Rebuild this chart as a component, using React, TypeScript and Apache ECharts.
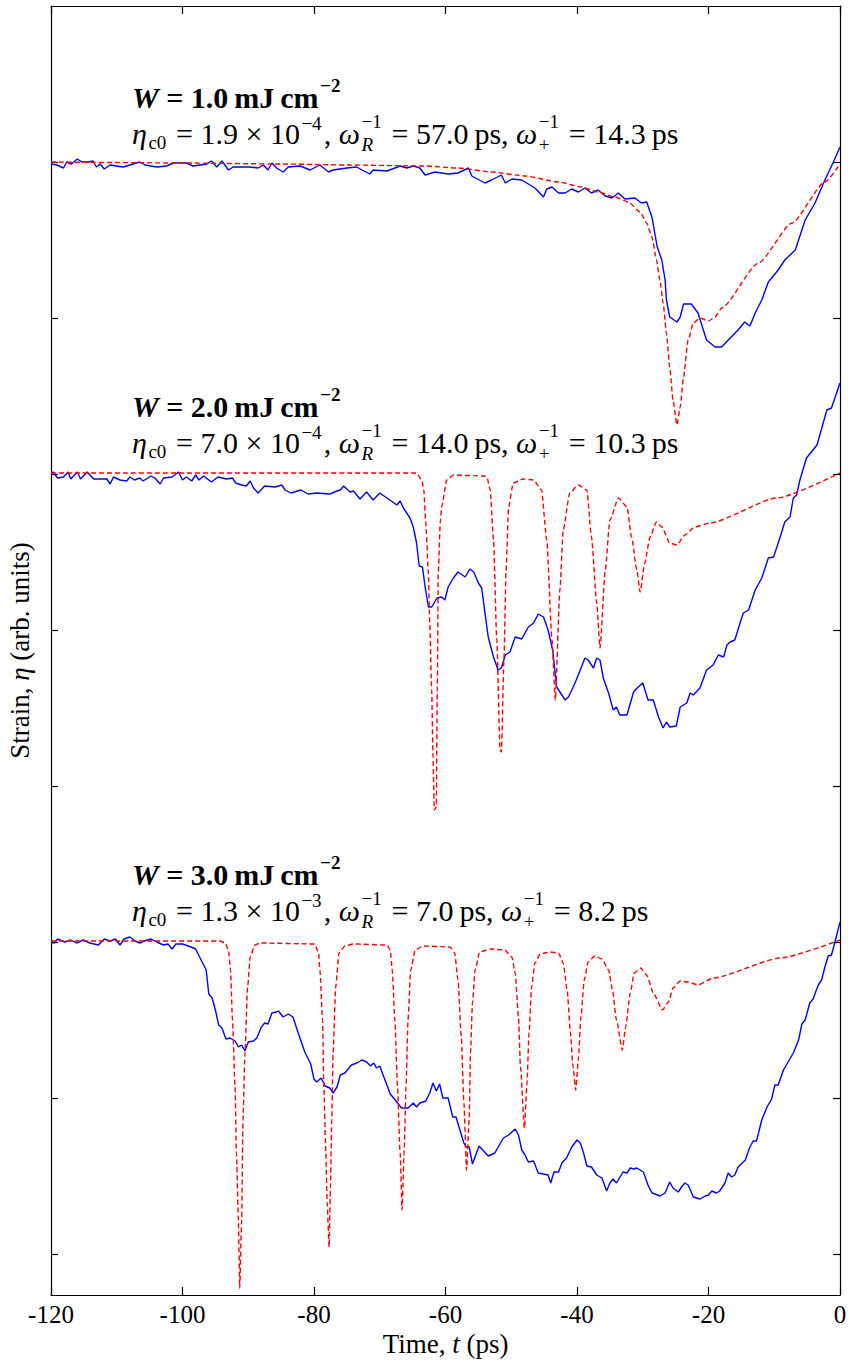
import React, { useEffect, useRef } from "react";
import * as echarts from "echarts";

// ---------- data (time in ps, strain in arbitrary units relative to each trace's baseline) ----------
const X_TICKS_STEP = 20;
const X_MIN = -120;
const X_MAX = 0;
const Y_MIN = -1289;
const Y_MAX = 0;
const Y_TICKS = [-156, -312, -468, -624, -780, -936, -1092, -1248];
const OFFSETS = [-156, -467, -935];

const FLUENCE = ["1.0", "2.0", "3.0"];
const ETA_MANT = ["1.9", "7.0", "1.3"];
const ETA_EXP = ["−4", "−4", "−3"];
const OMEGA_R = ["57.0", "14.0", "7.0"];
const OMEGA_P = ["14.3", "10.3", "8.2"];

const BLUE1: number[][] = [
  [-120.0, -2], [-119.1, -3], [-118.1, -6], [-117.6, 0], [-116.9, -2], [-116.0, 3], [-115.3, 0], [-114.3, 0],
  [-113.6, 1], [-113.1, -5], [-112.5, -2], [-111.9, -7], [-111.0, -3], [-110.0, -4], [-109.0, -5], [-107.5, -2],
  [-106.5, 0], [-105.7, -3], [-103.9, -5], [-102.4, -4], [-101.4, -1], [-99.4, -1], [-98.4, -4], [-96.3, -2],
  [-95.6, 1], [-94.8, -5], [-94.0, 1], [-93.0, -8], [-92.3, -5], [-89.7, -5], [-88.5, -6], [-87.7, -3],
  [-87.0, -8], [-86.4, -1], [-85.7, -6], [-84.7, -10], [-83.9, -5], [-82.1, -4], [-80.6, -8], [-79.1, -3],
  [-77.8, -10], [-77.1, -8], [-75.0, -6], [-73.5, -5], [-72.7, -8], [-71.5, -12], [-71.0, -8], [-68.9, -9],
  [-66.9, -4], [-65.9, -6], [-64.9, -4], [-63.9, -6], [-63.1, -13], [-61.6, -10], [-59.6, -12], [-58.1, -11],
  [-56.5, -6], [-56.0, -14], [-54.0, -21], [-53.0, -18], [-51.5, -13], [-50.9, -21], [-49.9, -17], [-48.4, -18],
  [-47.4, -22], [-46.4, -26], [-45.1, -35], [-44.6, -27], [-43.8, -25], [-42.8, -31], [-41.8, -31], [-40.8, -27],
  [-39.8, -30], [-38.8, -26], [-37.8, -31], [-36.8, -28], [-35.7, -34], [-34.7, -36], [-33.7, -31], [-32.7, -37],
  [-31.2, -36], [-30.2, -41], [-29.4, -40], [-28.6, -55], [-27.8, -85], [-27.1, -98], [-26.6, -118], [-26.4, -138],
  [-25.9, -155], [-24.8, -160], [-24.3, -155], [-23.8, -142], [-22.6, -142], [-21.6, -151], [-20.3, -178], [-19.0, -185],
  [-18.0, -185], [-17.0, -178], [-15.5, -168], [-14.5, -160], [-13.7, -164], [-12.9, -151], [-11.9, -138], [-10.9, -120],
  [-9.4, -108], [-8.4, -98], [-6.8, -88], [-5.3, -58], [-3.8, -41], [-2.3, -18], [-1.0, 0], [0, 15],
];

const RED1: number[][] = [
  [-120, 0], [-100, -1], [-85, -2], [-75, -3], [-63.1, -4], [-58.1, -6], [-53.0, -10], [-47.9, -14],
  [-42.8, -20], [-39.3, -25], [-36.8, -30], [-34.2, -35], [-32.2, -40], [-30.4, -50], [-29.4, -61], [-28.6, -75],
  [-27.9, -98], [-27.4, -118], [-26.9, -141], [-26.4, -171], [-25.9, -205], [-25.4, -238], [-24.8, -263], [-24.3, -245],
  [-23.8, -215], [-23.1, -178], [-22.3, -161], [-21.3, -156], [-20.0, -159], [-19.0, -155], [-18.0, -146],
  [-12.4, -101], [-7.3, -61], [-2.3, -20], [0, -2],
];

const BLUE2: number[][] = [
  [-119.9, 0], [-119.7, 1], [-119.0, -5], [-118.1, -4], [-117.4, 1], [-117.0, -6], [-116.0, 1], [-115.5, -6],
  [-114.5, 1], [-113.5, -6], [-111.5, -6], [-111.0, -11], [-110.5, -4], [-109.5, -7], [-108.5, -8], [-108.0, -4],
  [-107.3, -7], [-106.5, -5], [-106.0, -8], [-104.8, -3], [-104.2, -5], [-103.4, -11], [-102.9, -5], [-101.6, -4],
  [-100.6, 1], [-100.0, -7], [-99.4, -4], [-98.6, -8], [-98.0, -2], [-97.5, -7], [-96.8, -3], [-95.6, -9],
  [-94.6, -4], [-93.3, -6], [-92.4, -5], [-91.9, -10], [-91.0, -12], [-90.3, -13], [-89.7, -8], [-89.2, -15],
  [-88.5, -20], [-87.5, -13], [-85.9, -14], [-84.9, -12], [-84.4, -17], [-83.5, -20], [-82.0, -17], [-80.9, -21],
  [-79.6, -20], [-77.6, -21], [-76.5, -18], [-76.0, -17], [-75.5, -13], [-74.5, -19], [-74.0, -18], [-73.0, -26],
  [-72.0, -19], [-71.0, -27], [-70.0, -20], [-68.9, -25], [-67.4, -32], [-66.9, -28], [-66.4, -35], [-65.4, -45],
  [-64.9, -54], [-64.4, -70], [-64.0, -93], [-63.5, -94], [-63.1, -114], [-62.6, -134], [-62.1, -134], [-61.3, -125],
  [-60.6, -124], [-60.1, -127], [-59.6, -114], [-58.8, -105], [-58.1, -99], [-57.0, -104], [-56.3, -96], [-55.7, -99],
  [-55.0, -110], [-54.5, -115], [-54.0, -140], [-53.5, -164], [-52.7, -184], [-52.0, -197], [-51.5, -195], [-50.9, -182],
  [-50.2, -179], [-49.4, -164], [-48.4, -166], [-47.4, -154], [-46.6, -150], [-45.9, -141], [-45.1, -144], [-44.4, -157],
  [-43.7, -177], [-43.1, -214], [-41.8, -227], [-41.3, -224], [-40.3, -210], [-39.5, -197], [-38.8, -185], [-38.3, -187],
  [-37.5, -195], [-37.0, -185], [-36.5, -187], [-36.0, -205], [-35.2, -220], [-34.5, -237], [-34.0, -234], [-33.5, -242],
  [-32.4, -242], [-31.4, -219], [-30.7, -214], [-30.0, -210], [-29.2, -227], [-28.4, -227], [-27.6, -244], [-26.9, -255],
  [-26.4, -249], [-25.9, -254], [-24.9, -253], [-24.3, -234], [-23.3, -230], [-22.8, -220], [-22.3, -222], [-21.3, -215],
  [-20.3, -197], [-19.3, -192], [-18.5, -182], [-17.7, -184], [-17.2, -172], [-16.7, -169], [-16.0, -167], [-15.2, -150],
  [-14.7, -140], [-13.9, -137], [-12.9, -117], [-11.9, -105], [-10.9, -85], [-10.1, -84], [-9.1, -64], [-8.4, -49],
  [-7.6, -44], [-7.1, -25], [-6.6, -22], [-6.1, -7], [-5.1, 15], [-3.5, 28], [-2.0, 63], [-1.3, 65], [0, 90],
];

const RED2: number[][] = [
  [-120, 0], [-64.4, 0], [-63.6, -7], [-63.3, -17], [-63.0, -50], [-62.6, -100], [-62.4, -150], [-62.1, -217],
  [-61.9, -284], [-61.7, -337], [-61.4, -334], [-61.25, -217], [-61.1, -100], [-60.8, -50], [-60.6, -34], [-59.8, -7],
  [-58.8, -2], [-54.0, -3], [-53.7, -4], [-53.2, -17], [-52.7, -67], [-52.2, -167], [-51.7, -277], [-51.5, -279],
  [-51.1, -184], [-50.8, -100], [-50.4, -34], [-49.7, -10], [-48.2, -6], [-46.6, -7], [-45.4, -17], [-44.6, -67],
  [-43.8, -167], [-43.3, -227], [-42.6, -117], [-42.1, -57], [-41.1, -20], [-39.8, -12], [-38.5, -17], [-37.8, -64],
  [-37.0, -130], [-36.5, -175], [-35.7, -97], [-35.0, -47], [-33.7, -25], [-32.4, -34], [-31.7, -64], [-30.9, -97],
  [-30.4, -119], [-29.7, -90], [-28.9, -64], [-27.9, -49], [-27.1, -54], [-25.9, -70], [-24.8, -72], [-23.6, -62],
  [-22.1, -54], [-19.8, -50], [-9.6, -25], [0, 0],
];

const BLUE3: number[][] = [
  [-119.9, -1], [-119.5, -2], [-119.0, 2], [-117.9, -1], [-117.0, 1], [-116.1, -2], [-115.1, 1], [-114.1, -2],
  [-112.8, -4], [-111.9, 2], [-111.0, 0], [-110.2, 2], [-109.5, -4], [-108.9, 2], [-108.0, 4], [-107.2, 0],
  [-106.5, -2], [-105.8, 0], [-104.8, 2], [-103.9, -1], [-102.9, -4], [-102.2, -3], [-101.6, -8], [-101.0, -3],
  [-100.0, -3], [-99.1, -5], [-98.0, -8], [-97.4, -16], [-96.4, -29], [-96.0, -53], [-95.5, -57], [-95.0, -69],
  [-94.5, -84], [-94.0, -87], [-93.4, -98], [-92.8, -97], [-92.0, -100], [-91.5, -106], [-91.0, -104], [-90.5, -110],
  [-90.0, -101], [-89.2, -100], [-88.7, -97], [-88.0, -86], [-87.5, -82], [-87.0, -83], [-86.4, -72], [-85.7, -71],
  [-85.4, -70], [-84.7, -76], [-83.9, -73], [-83.2, -76], [-82.4, -92], [-81.4, -111], [-80.5, -123], [-80.0, -138],
  [-79.6, -141], [-78.9, -137], [-78.3, -145], [-77.6, -147], [-77.1, -152], [-76.5, -146], [-76.0, -134], [-75.3, -132],
  [-74.3, -124], [-73.5, -122], [-72.7, -119], [-72.0, -121], [-71.4, -125], [-70.9, -122], [-70.5, -127], [-70.0, -125],
  [-69.2, -139], [-68.4, -153], [-67.4, -161], [-66.7, -167], [-65.7, -167], [-64.9, -162], [-64.4, -166], [-63.9, -162],
  [-63.0, -160], [-62.4, -152], [-61.9, -142], [-61.4, -150], [-60.9, -143], [-60.4, -157], [-59.6, -157], [-58.9, -176],
  [-58.4, -176], [-57.9, -187], [-57.2, -202], [-56.9, -206], [-56.4, -206], [-55.9, -223], [-54.9, -205], [-53.5, -215],
  [-52.5, -212], [-51.2, -197], [-50.4, -194], [-49.4, -188], [-48.9, -194], [-48.4, -209], [-47.9, -214], [-47.4, -221],
  [-46.6, -220], [-45.9, -232], [-45.1, -233], [-44.4, -234], [-44.0, -242], [-43.5, -231], [-42.8, -231], [-42.3, -222],
  [-41.6, -217], [-40.8, -206], [-40.0, -199], [-39.5, -202], [-39.0, -212], [-38.5, -225], [-37.8, -226], [-37.0, -234],
  [-36.2, -237], [-35.5, -250], [-35.0, -242], [-34.5, -238], [-34.0, -242], [-33.0, -231], [-32.4, -232], [-31.9, -227],
  [-31.4, -228], [-30.9, -227], [-29.9, -231], [-29.2, -244], [-28.6, -252], [-28.1, -253], [-27.4, -255], [-26.6, -252],
  [-25.9, -241], [-25.4, -247], [-24.6, -251], [-24.1, -246], [-23.6, -242], [-23.1, -244], [-22.3, -256], [-21.3, -258],
  [-20.5, -255], [-20.0, -254], [-19.5, -250], [-18.8, -252], [-18.3, -250], [-17.5, -242], [-17.0, -232], [-16.5, -236],
  [-16.0, -234], [-15.5, -226], [-14.4, -219], [-13.7, -206], [-13.2, -200], [-12.7, -200], [-11.9, -179], [-11.1, -166],
  [-10.4, -158], [-9.9, -144], [-9.4, -144], [-8.6, -129], [-7.9, -121], [-7.1, -112], [-6.3, -99], [-5.8, -83],
  [-5.3, -79], [-4.6, -62], [-4.1, -58], [-3.3, -44], [-2.8, -39], [-2.3, -26], [-1.8, -15], [-1.3, -14],
  [-0.8, -2], [0, 19],
];

const RED3: number[][] = [
  [-120, 0], [-94.3, 0], [-93.5, -2], [-93.0, -9], [-92.7, -29], [-92.4, -79], [-92.0, -146], [-91.8, -212],
  [-91.5, -279], [-91.3, -347], [-91.0, -279], [-90.8, -179], [-90.5, -112], [-90.1, -46], [-89.7, -16], [-89.0, -4],
  [-88.2, -2], [-79.9, -3], [-79.3, -12], [-79.1, -29], [-78.7, -79], [-78.5, -146], [-78.2, -212], [-78.0, -262],
  [-77.7, -306], [-77.5, -246], [-77.3, -179], [-77.1, -112], [-76.7, -46], [-76.2, -12], [-75.3, -5], [-74.0, -3],
  [-68.9, -4], [-68.4, -9], [-68.1, -29], [-67.7, -79], [-67.3, -146], [-66.9, -212], [-66.6, -269], [-66.3, -212],
  [-66.0, -146], [-65.7, -79], [-65.3, -29], [-64.6, -9], [-63.4, -5], [-59.3, -6], [-58.6, -12], [-58.1, -39],
  [-57.6, -96], [-57.2, -162], [-56.8, -229], [-56.4, -179], [-56.2, -112], [-55.9, -62], [-55.5, -29], [-54.8, -11],
  [-53.2, -8], [-51.0, -9], [-49.9, -16], [-49.4, -32], [-48.9, -76], [-48.6, -126], [-48.0, -187], [-47.6, -142],
  [-47.3, -92], [-46.9, -46], [-46.4, -22], [-45.6, -13], [-44.1, -11], [-42.8, -12], [-42.1, -22], [-41.5, -49],
  [-41.0, -92], [-40.6, -126], [-40.2, -149], [-39.8, -119], [-39.4, -76], [-38.9, -39], [-38.3, -21], [-37.3, -15],
  [-36.2, -18], [-35.2, -29], [-34.6, -49], [-34.0, -79], [-33.1, -109], [-32.6, -86], [-31.9, -52], [-31.3, -32],
  [-30.3, -27], [-29.4, -34], [-28.4, -52], [-27.0, -69], [-26.1, -61], [-25.4, -47], [-24.3, -40], [-23.1, -41],
  [-21.6, -44], [-19.3, -37], [-9.1, -17], [0, 1],
];

// ---------- layout / style ----------
const W = 850;
const H = 1361;
const FONT = "Liberation Serif, serif";
const TICK_FONT = 25;
const NAME_FONT = 27;
const ANN_FONT = 30;
const ANN_X = 132;
const ANN_Y = [97, 406, 874];
const ANN_GAP = 36;
const BLUE = "#0000ff";
const RED = "#ff0000";

type Seg = { s: string; it?: boolean; b?: boolean; pos?: "sup" | "sub"; stack?: boolean; shiftK?: number };

function layoutLine(segs: Seg[], x0: number, yc: number, size: number): any[] {
  const canvas = document.createElement("canvas");
  const ctx = canvas.getContext("2d")!;
  const els: any[] = [];
  let x = x0;
  let prevStart = x0;
  for (const seg of segs) {
    const fs = seg.pos ? Math.round(size * 0.62) : size;
    ctx.font = `${seg.it ? "italic " : ""}${seg.b ? "bold " : ""}${fs}px ${FONT}`;
    const w = ctx.measureText(seg.s).width;
    const pad = seg.pos ? 1.5 : 0;
    const start = seg.stack ? prevStart : x + pad;
    const k = seg.shiftK ?? (seg.pos === "sup" ? 0.33 : 0.3);
    const dy = seg.pos === "sup" ? -size * k : seg.pos === "sub" ? size * k : 0;
    els.push({
      type: "text",
      x: start,
      y: yc + dy,
      silent: true,
      style: {
        text: seg.s,
        fontSize: fs,
        fontFamily: FONT,
        fontStyle: seg.it ? "italic" : "normal",
        fontWeight: seg.b ? "bold" : "normal",
        fill: "#000",
        align: "left",
        verticalAlign: "middle",
      },
    });
    const end = start + w + pad * 1.5;
    x = seg.stack ? Math.max(x, end) : end;
    prevStart = start;
  }
  return els;
}

function annotations(): any[] {
  const out: any[] = [];
  for (let i = 0; i < 3; i++) {
    const y1 = ANN_Y[i];
    out.push(
      ...layoutLine(
        [
          { s: "W", it: true, b: true },
          { s: ` = ${FLUENCE[i]}\u2009mJ\u2009cm`, b: true },
          { s: "−2", b: true, pos: "sup", shiftK: 0.4 },
        ],
        ANN_X,
        y1,
        ANN_FONT
      )
    );
    out.push(
      ...layoutLine(
        [
          { s: "η", it: true },
          { s: "c0", pos: "sub" },
          { s: ` = ${ETA_MANT[i]} × 10` },
          { s: ETA_EXP[i], pos: "sup", shiftK: 0.32 },
          { s: ", " },
          { s: "ω", it: true },
          { s: "R", it: true, pos: "sub", shiftK: 0.37 },
          { s: "−1", pos: "sup", stack: true, shiftK: 0.37 },
          { s: ` = ${OMEGA_R[i]}\u2009ps, ` },
          { s: "ω", it: true },
          { s: "+", pos: "sub", shiftK: 0.37 },
          { s: "−1", pos: "sup", stack: true, shiftK: 0.37 },
          { s: ` = ${OMEGA_P[i]}\u2009ps` },
        ],
        ANN_X,
        y1 + ANN_GAP,
        ANN_FONT
      )
    );
  }
  return out;
}

function shift(d: number[][], off: number) {
  return d.map(([t, v]) => [t, v + off]);
}

export default function App() {
  const ref = useRef<HTMLDivElement>(null);
  useEffect(() => {
    document.body.style.margin = "0";
    const chart = echarts.init(ref.current!, undefined, { renderer: "svg" });
    const axisLine = { show: true, onZero: false, lineStyle: { color: "#000", width: 1.2 } };
    const tickStyle = { color: "#000", width: 1.2 };
    const blue = (d: number[][], k: number) => ({
      type: "line",
      data: shift(d, OFFSETS[k]),
      showSymbol: false,
      symbol: "none",
      lineStyle: { color: BLUE, width: 1.4 },
      z: 2,
      silent: true,
    });
    const red = (d: number[][], k: number) => ({
      type: "line",
      data: shift(d, OFFSETS[k]),
      showSymbol: false,
      symbol: "none",
      smooth: 0.2,
      smoothMonotone: "x",
      lineStyle: { color: RED, width: 1.4, type: [5, 3] },
      z: 3,
      silent: true,
    });
    const nameStyle = {
      color: "#000",
      fontSize: NAME_FONT,
      fontFamily: FONT,
      rich: { it: { fontStyle: "italic", fontSize: NAME_FONT, fontFamily: FONT, color: "#000" } },
    };
    chart.setOption({
      animation: false,
      backgroundColor: "#fff",
      textStyle: { fontFamily: FONT },
      grid: { left: 51, right: 10, top: 6, bottom: 66, containLabel: false, outerBoundsMode: "none" },
      xAxis: [
        {
          type: "value",
          min: X_MIN,
          max: X_MAX,
          interval: X_TICKS_STEP,
          position: "bottom",
          axisLine,
          axisTick: { show: true, inside: true, length: 8, lineStyle: tickStyle },
          axisLabel: { color: "#000", fontSize: TICK_FONT, fontFamily: FONT, margin: 7 },
          splitLine: { show: false },
          name: "Time, {it|t} (ps)",
          nameLocation: "middle",
          nameGap: 35,
          nameMoveOverlap: false,
          nameTextStyle: nameStyle,
        },
        {
          type: "value",
          min: X_MIN,
          max: X_MAX,
          interval: X_TICKS_STEP,
          position: "top",
          axisLine,
          axisTick: { show: true, inside: true, length: 8, lineStyle: tickStyle },
          axisLabel: { show: false },
          splitLine: { show: false },
        },
      ],
      yAxis: [
        {
          type: "value",
          min: Y_MIN,
          max: Y_MAX,
          position: "left",
          axisLine,
          axisTick: { show: true, inside: true, length: 7, lineStyle: tickStyle, customValues: Y_TICKS },
          axisLabel: { show: false },
          splitLine: { show: false },
          name: "Strain, {it|η} (arb. units)",
          nameLocation: "middle",
          nameGap: 18,
          nameMoveOverlap: false,
          nameTextStyle: nameStyle,
        },
        {
          type: "value",
          min: Y_MIN,
          max: Y_MAX,
          position: "right",
          axisLine,
          axisTick: { show: true, inside: true, length: 7, lineStyle: tickStyle, customValues: Y_TICKS },
          axisLabel: { show: false },
          splitLine: { show: false },
        },
      ],
      series: [
        blue(BLUE1, 0),
        red(RED1, 0),
        blue(BLUE2, 1),
        red(RED2, 1),
        blue(BLUE3, 2),
        red(RED3, 2),
      ],
      graphic: annotations(),
    });
    return () => chart.dispose();
  }, []);
  return <div ref={ref} style={{ width: W, height: H, position: "absolute", left: 0, top: 0 }} />;
}
